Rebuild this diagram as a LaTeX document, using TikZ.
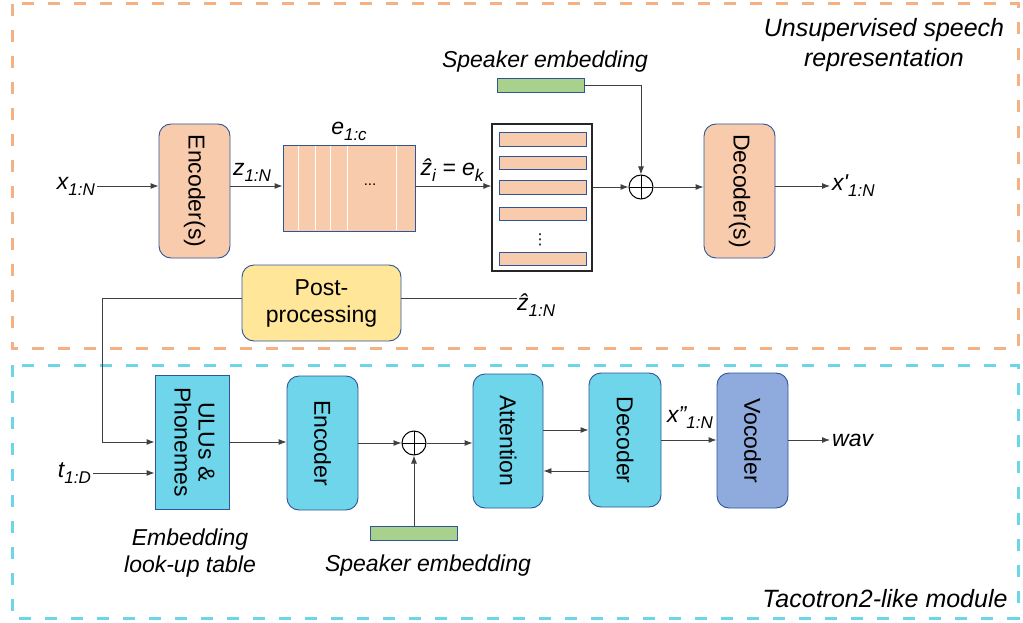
\documentclass[tikz,border=0pt]{standalone}
\usepackage{fontspec}
\setmainfont{Liberation Sans}
\newfontfamily\symfont{DejaVu Sans}
\usetikzlibrary{arrows.meta,positioning}
\usepackage{graphicx}

\definecolor{peach}{HTML}{F8CBAD}
\definecolor{skyc}{HTML}{6ED5EA}
\definecolor{vocc}{HTML}{8FAADC}
\definecolor{greenc}{HTML}{A9D18E}
\definecolor{yellowc}{HTML}{FFE699}
\definecolor{edgec}{HTML}{2F5597}
\definecolor{orangedash}{HTML}{F4B183}
\definecolor{cyandash}{HTML}{6CD5E8}

\newcommand{\sbs}[1]{\raisebox{-6pt}{\fontsize{17}{17}\selectfont #1}}
\newcommand{\vlabel}[1]{\rotatebox{-90}{#1}}

\tikzset{
  blk/.style={draw=edgec, line width=0.9pt, rounded corners=12pt, minimum width=71pt, minimum height=134pt, inner sep=0pt},
  bar/.style={draw=edgec, line width=0.9pt, fill=peach, minimum width=87pt, minimum height=13.5pt, inner sep=0pt},
  spkbar/.style={draw=edgec, line width=0.9pt, fill=greenc, minimum width=87pt, minimum height=14pt, inner sep=0pt},
  lbl/.style={inner sep=2pt, font=\fontsize{23}{27}\selectfont\itshape},
  sumnode/.style={circle, draw=black, line width=1pt, minimum size=24pt, inner sep=0pt,
    path picture={\draw[line width=1pt] (path picture bounding box.north) -- (path picture bounding box.south)
      (path picture bounding box.west) -- (path picture bounding box.east);}},
  arr/.style={draw=black!75, line width=0.9pt, -{Latex[length=8pt,width=6pt]}},
  ln/.style={draw=black!75, line width=0.9pt},
}

\begin{document}
\begin{tikzpicture}[x=1pt,y=-1pt, font=\fontsize{23}{27}\selectfont]
  \useasboundingbox (0,0) rectangle (1023,623);
  % the two module frames
  \draw[orangedash, line width=3pt, dash pattern=on 12pt off 14pt] (12,4) rectangle (1018,348);
  \draw[cyandash, line width=3pt, dash pattern=on 12pt off 14pt] (12,365) rectangle (1018,618);
  \node[lbl, align=center, font=\fontsize{25}{30}\selectfont\itshape] (title1) at (884,45) {Unsupervised speech\\representation};
  \node[lbl, font=\fontsize{25}{30}\selectfont\itshape] (title2) at (885,599) {Tacotron2-like module};

  %% upper part: VQ autoencoder
  \node[lbl, anchor=east] (xin) at (97,186) {x\sbs{1:N}};
  \node[blk, fill=peach] (enc1) at (194.5,191) {\vlabel{Encoder(s)}};
  \node[draw=edgec, line width=0.9pt, fill=peach, minimum width=132pt, minimum height=86pt, inner sep=0pt] (cb) at (349,188) {};
  \foreach \dx in {16,33,48,65,114} {   %white separators of the codebook
    \draw[white, line width=1.2pt] ([xshift=\dx pt, yshift=1pt]cb.south west) -- ([xshift=\dx pt, yshift=-1pt]cb.north west);
  }
  \node[font=\fontsize{15}{15}\selectfont] (cbdots) at (370,185) {...};
  \node[lbl, above=2pt of cb] (eic) {e\sbs{1:c}};
  \node[lbl] (zlab) at (252,172) {z\sbs{1:N}};
  \node[lbl] (zhi) at (452,170) {\^{z}\sbs{i} = e\sbs{k}};

  \node[draw=black!85, line width=1.3pt, minimum width=100pt, minimum height=147pt, inner sep=0pt] (stack) at (542,197.5) {};
  \foreach \y [count=\i] in {139.5,163,187.5,214,259} {   %code vectors
    \node[bar] (b\i) at (542.5,\y) {};
  }
  \node[font=\symfont\fontsize{15}{15}\selectfont, inner sep=0pt] (vdots) at (540,240) {⋮};

  \node[spkbar] (spk1) at (540.5,85) {};
  \node[lbl] (spk1lab) at (545,62) {Speaker embedding};
  \node[sumnode] (sum1) at (641,187) {};
  \node[blk, fill=peach] (dec1) at (739.5,191) {\vlabel{Decoder(s)}};
  \node[lbl, anchor=west] (xout) at (830,186) {x\textquotesingle\sbs{1:N}};

  \draw[arr] (xin.east) -- (xin.east -| enc1.west);
  \draw[arr] ([yshift=5pt]enc1.east) -- ([yshift=5pt]enc1.east -| cb.west);
  \draw[arr] ([yshift=2pt]cb.east) -- ([yshift=2pt]cb.east -| stack.west);
  \draw[arr] (stack.east |- sum1) -- (sum1.west);
  \draw[arr] (spk1.east) -| (sum1.north);
  \draw[arr] (sum1.east) -- (sum1.east -| dec1.west);
  \draw[arr] (dec1.east |- xout.west) -- (xout.west);

  %% post-processing link
  \node[blk, fill=yellowc, minimum width=159pt, minimum height=76pt, align=center] (post) at (321.5,303) {Post-\\processing};
  \node[lbl, anchor=west, inner sep=0pt] (zhat) at (517,305) {\^{z}\sbs{1:N}};
  \coordinate (bend) at (102,298);
  \draw[ln] ([yshift=5pt]post.east) -- ([yshift=5pt]post.east -| zhat.west);

  %% lower part: Tacotron2
  \node[draw=edgec, line width=0.9pt, fill=skyc, minimum width=74pt, minimum height=134pt, inner sep=0pt] (ulu) at (192,442)
    {\vlabel{\begin{tabular}{@{}c@{}}ULUs \&\\[-3pt]Phonemes\end{tabular}}};
  \node[lbl, anchor=east] (tin) at (93,473) {t\sbs{1:D}};
  \node[lbl, align=center, font=\fontsize{23}{27}\selectfont\itshape] (emb) at (190,553) {Embedding\\look-up table};
  \node[blk, fill=skyc] (enc2) at (322.5,443) {\vlabel{Encoder}};
  \node[sumnode] (sum2) at (414,443) {};
  \node[spkbar] (spk2) at (414,533) {};
  \node[lbl] (spk2lab) at (428,566) {Speaker embedding};
  \node[blk, fill=skyc, minimum width=70pt] (att) at (508,441) {\vlabel{Attention}};
  \node[blk, fill=skyc, minimum width=72pt] (dec2) at (625,440) {\vlabel{Decoder}};
  \node[blk, fill=vocc, minimum height=135pt] (voc) at (752.5,440.5) {\vlabel{Vocoder}};
  \node[lbl] (xpp) at (690,418) {x”\sbs{1:N}};
  \node[lbl, anchor=west] (wav) at (830,440) {wav};

  \draw[arr] ([yshift=5pt]post.west) -- (bend) |- (ulu.west);
  \draw[arr] (tin.east) -- (tin.east -| ulu.west);
  \draw[arr] (ulu.east) -- (ulu.east -| enc2.west);
  \draw[arr] (enc2.east |- sum2) -- (sum2.west);
  \draw[arr] (spk2.north) -- (sum2.south);
  \draw[arr] (sum2.east) -- (sum2.east -| att.west);
  \draw[arr] ([yshift=11pt]att.east) -- ([yshift=11pt]att.east -| dec2.west);
  \draw[arr] ([yshift=-31pt]dec2.west) -- ([yshift=-31pt]dec2.west -| att.east);
  \draw[arr] (dec2.east) -- (dec2.east -| voc.west);
  \draw[arr] (voc.east |- wav.west) -- (wav.west);
\end{tikzpicture}
\end{document}
